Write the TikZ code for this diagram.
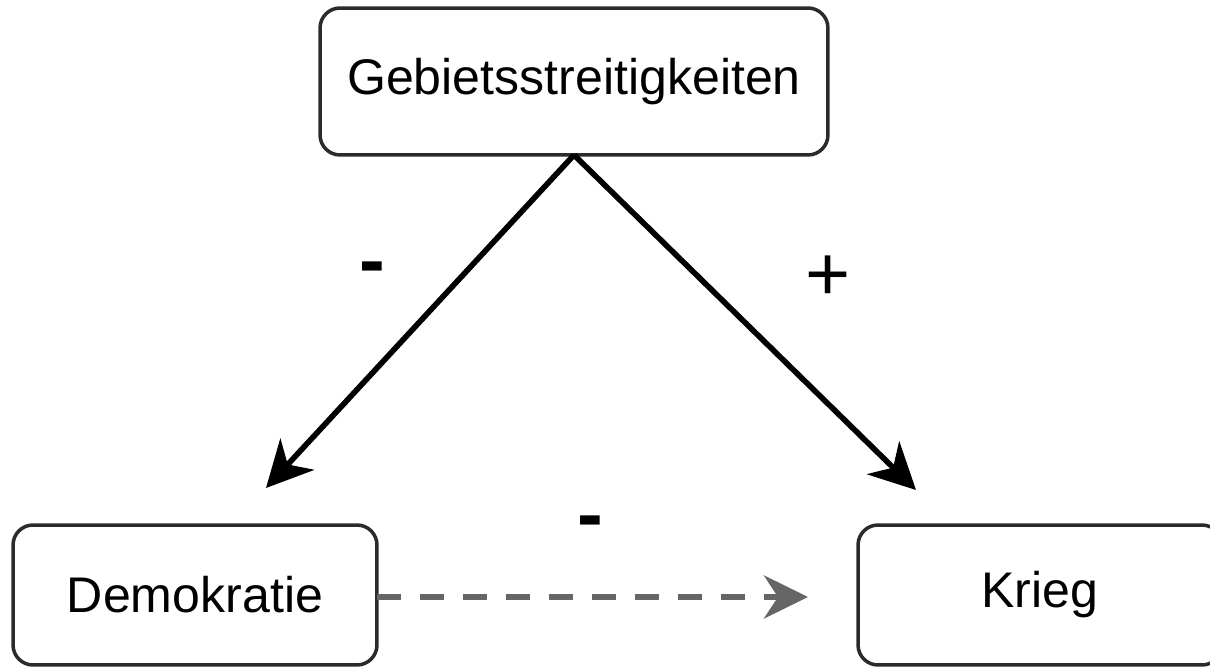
\documentclass[tikz,border=0pt]{standalone}
\usepackage{fontspec}
\setmainfont{Liberation Sans}
\usetikzlibrary{arrows.meta}

\definecolor{boxline}{HTML}{2B2B2B}
\definecolor{dashgray}{HTML}{666666}

\tikzset{
    factor/.style={draw=boxline, line width=2pt, rounded corners=0.4cm, fill=white,
        inner sep=0pt, outer sep=0pt, font=\fontsize{28.5}{34}\selectfont},
    effect/.style={line width=3.2pt, -{Stealth[length=0.92cm, width=0.92cm, inset=0.28cm]}},
    weak/.style={dashgray, line width=3.6pt, dash pattern=on 0.48cm off 0.38cm,
        -{Stealth[length=0.88cm, width=0.86cm, inset=0.28cm]}},
    sign/.style={font=\fontsize{44}{50}\selectfont, inner sep=0pt}
}

\begin{document}
\begin{tikzpicture}[x=0.02cm, y=-0.02cm]
    \useasboundingbox (0,0) rectangle (1210,668);

    \node[factor, minimum width=10.16cm, minimum height=2.94cm] (gebiet) at (574,81.5) {Gebietsstreitigkeiten};
    \node[factor, minimum width=7.28cm, minimum height=2.8cm] (demo) at (195,595) {Demokratie};
    \node[factor, minimum width=7.28cm, minimum height=2.8cm] (krieg) at (1040,595) {Krieg};

    \coordinate (demotip) at (266,488);
    \coordinate (kriegtip) at (916,490);
    \coordinate (dashend) at (808,597);

    \draw[effect] (gebiet.south) -- (demotip);
    \draw[effect] (gebiet.south) -- (kriegtip);
    \draw[weak] (demo.east |- dashend) -- (dashend);

    % Vorzeichen
    \node[sign] (minusa) at (372,274) {\textbf{-}};
    \node[sign] (plus) at (828,278) {+};
    \node[sign] (minusb) at (590,528) {\textbf{-}};
\end{tikzpicture}
\end{document}
